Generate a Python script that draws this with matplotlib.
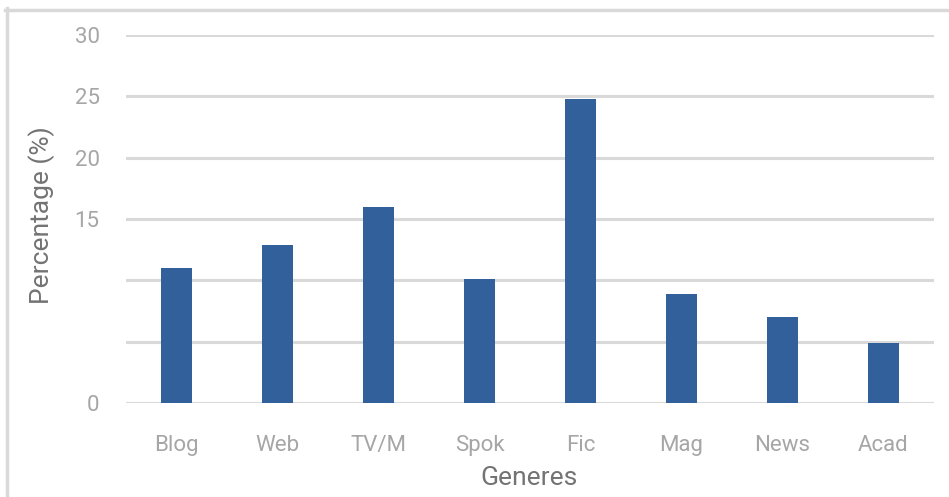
import numpy as np
import matplotlib
matplotlib.use("Agg")
import matplotlib.pyplot as plt
from matplotlib.lines import Line2D

# genre shares
genres = ["Blog", "Web", "TV/M", "Spok", "Fic", "Mag", "News", "Acad"]
percent = [11.0, 12.9, 16.0, 10.1, 24.8, 8.9, 7.0, 4.9]
yticks = [0, 5, 10, 15, 20, 25, 30]
ylabels = ["0", "", "", "15", "20", "25", "30"]

plt.rcParams['font.family'] = ['Roboto', 'DejaVu Sans']

W, H = 949, 497
fig = plt.figure(figsize=(W / 100, H / 100), dpi=100)
ax_w = 934 - 126
ax_h = 403 - 35
ax = fig.add_axes([126 / W, 1 - 403 / H, ax_w / W, ax_h / H])

x = np.arange(len(genres))
ax.bar(x, percent, width=0.31, color="#31609a", zorder=3)

ax.set_xlim(-0.5, len(genres) - 0.5)
ax.set_ylim(0, 30)
ax.set_yticks(yticks)
ax.set_yticklabels(ylabels)
ax.set_xticks(x)
ax.set_xticklabels(genres)
ax.grid(axis="y", color="#d9d9d9", linewidth=2.2, zorder=0)
for s in ax.spines.values():
    s.set_visible(False)
ax.tick_params(length=0, labelsize=16, labelcolor="#a6a6a6")
ax.tick_params(axis="x", pad=23)
ax.tick_params(axis="y", pad=19)

ax.set_xlabel("Generes", fontsize=19, color="#737373")
ax.set_ylabel("Percentage (%)", fontsize=19, color="#737373")
ax.xaxis.label.set_va("center")
ax.yaxis.label.set_va("center")
ax.xaxis.set_label_coords((529 - 126) / ax_w, (403 - 478) / ax_h)
ax.yaxis.set_label_coords((42 - 126) / ax_w, (403 - 215) / ax_h)

# outer frame (left and top edges)
fig.add_artist(Line2D([6.5 / W, 6.5 / W], [0, 1 - 8 / H], transform=fig.transFigure,
                      color="#d9d9d9", linewidth=2.5))
fig.add_artist(Line2D([5 / W, 1], [1 - 9.5 / H, 1 - 9.5 / H], transform=fig.transFigure,
                      color="#d9d9d9", linewidth=2.5))

fig.savefig("out.png", dpi=100)
